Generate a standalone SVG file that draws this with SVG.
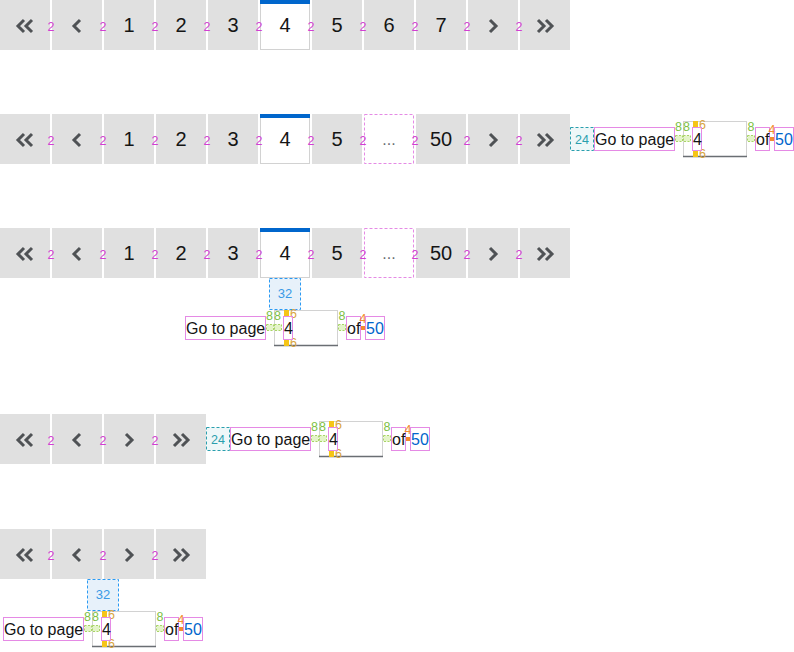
<svg xmlns="http://www.w3.org/2000/svg" width="794" height="652" viewBox="0 0 794 652">
<style>
  text { font-family: "Liberation Sans", "Noto Sans", sans-serif; }
  .btn { fill: #e0e0e0; }
  .act { fill: #ffffff; stroke: #d2d2d2; stroke-width: 1; }
  .bar { fill: #0066cc; }
  .num { font-size: 20px; fill: #151515; text-anchor: middle; }
  .ico { fill: none; stroke: #4f5255; stroke-width: 3; stroke-linecap: butt; stroke-linejoin: miter; }
  .gap { font-size: 12.5px; fill: #d23fd2; text-anchor: middle; }
  .ell { fill: #ffffff; stroke: #e58ae5; stroke-width: 1; stroke-dasharray: 3 2; }
  .dots { font-size: 16px; fill: #6a6e73; text-anchor: middle; }
  .mbox { fill: none; stroke: #e58ae5; stroke-width: 1; }
  .lbl { font-size: 16px; fill: #151515; }
  .blue { font-size: 16px; fill: #0066cc; }
  .inp { fill: #ffffff; stroke: #d2d2d2; stroke-width: 1; }
  .inpb { stroke: #6a6e73; stroke-width: 1.5; }
  .grn { fill: #e4f4c8; stroke: #a8d466; stroke-width: 1; stroke-dasharray: 2 1.5; }
  .gtx { font-size: 12.5px; fill: #7dbf45; text-anchor: middle; }
  .yel { fill: #f5c518; }
  .ytx { font-size: 12.5px; fill: #d9a540; }
  .org { fill: #f28b30; }
  .otx { font-size: 12.5px; fill: #f28b30; text-anchor: middle; }
  .teal { fill: #eef7f8; stroke: #2a9fae; stroke-width: 1; stroke-dasharray: 3 2; }
  .ttx { font-size: 12.5px; fill: #2a9fae; text-anchor: middle; }
  .sky { fill: #e7f1fa; stroke: #2b9af3; stroke-width: 1; stroke-dasharray: 3 2; }
  .stx { font-size: 13px; fill: #3a9ae6; text-anchor: middle; }
</style>
<defs>
  <g id="i-first"><path class="ico" d="M-1,-6 L-7,0 L-1,6 M7,-6 L1,0 L7,6"/></g>
  <g id="i-prev"><path class="ico" d="M3,-6 L-3,0 L3,6"/></g>
  <g id="i-next"><path class="ico" d="M-3,-6 L3,0 L-3,6"/></g>
  <g id="i-last"><path class="ico" d="M-7,-6 L-1,0 L-7,6 M1,-6 L7,0 L1,6"/></g>
  <g id="goto">
    <rect class="mbox" x="0.5" y="0.5" width="80" height="23"/>
    <text class="lbl" x="1" y="18">Go to page</text>
    <rect class="inp" x="89.5" y="-5.5" width="63" height="35"/>
    <line class="inpb" x1="89" y1="29.5" x2="153" y2="29.5"/>
    <rect class="grn" x="81.5" y="8.5" width="7" height="6"/>
    <rect class="grn" x="89.5" y="8.5" width="7" height="6"/>
    <text class="gtx" x="84.5" y="4">8</text>
    <text class="gtx" x="92.5" y="4">8</text>
    <rect class="yel" x="99" y="-6" width="5" height="6"/>
    <rect class="yel" x="99" y="24" width="5" height="6"/>
    <text class="ytx" x="105" y="2">6</text>
    <text class="ytx" x="105" y="31">6</text>
    <rect class="mbox" x="98.5" y="0.5" width="9" height="23"/>
    <text class="lbl" x="99" y="18">4</text>
    <rect class="grn" x="153.5" y="8.5" width="7" height="6"/>
    <text class="gtx" x="157" y="4">8</text>
    <rect class="mbox" x="161.5" y="0.5" width="14" height="23"/>
    <text class="lbl" x="162" y="18">of</text>
    <rect class="org" x="176" y="10" width="4" height="4"/>
    <text class="otx" x="178" y="7">4</text>
    <rect class="mbox" x="180.5" y="0.5" width="19" height="23"/>
    <text class="blue" x="181" y="18">50</text>
  </g>
</defs>

<!-- Row 1 -->
<g id="row1">
  <g id="r1-first"><rect class="btn" x="0" y="0" width="50" height="50"/><use href="#i-first" x="25" y="26"/></g>
  <g id="r1-prev"><rect class="btn" x="52" y="0" width="50" height="50"/><use href="#i-prev" x="77" y="26"/></g>
  <g id="r1-p1"><rect class="btn" x="104" y="0" width="50" height="50"/><text class="num" x="129" y="32">1</text></g>
  <g id="r1-p2"><rect class="btn" x="156" y="0" width="50" height="50"/><text class="num" x="181" y="32">2</text></g>
  <g id="r1-p3"><rect class="btn" x="208" y="0" width="50" height="50"/><text class="num" x="233" y="32">3</text></g>
  <g id="r1-p4"><rect class="act" x="260.5" y="0.5" width="49" height="49"/><rect class="bar" x="260" y="0" width="50" height="4"/><text class="num" x="285" y="32">4</text></g>
  <g id="r1-p5"><rect class="btn" x="312" y="0" width="50" height="50"/><text class="num" x="337" y="32">5</text></g>
  <g id="r1-p6"><rect class="btn" x="364" y="0" width="50" height="50"/><text class="num" x="389" y="32">6</text></g>
  <g id="r1-p7"><rect class="btn" x="416" y="0" width="50" height="50"/><text class="num" x="441" y="32">7</text></g>
  <g id="r1-next"><rect class="btn" x="468" y="0" width="50" height="50"/><use href="#i-next" x="493" y="26"/></g>
  <g id="r1-last"><rect class="btn" x="520" y="0" width="50" height="50"/><use href="#i-last" x="545" y="26"/></g>
  <g id="r1-gaps">
    <text class="gap" x="51" y="31">2</text><text class="gap" x="103" y="31">2</text><text class="gap" x="155" y="31">2</text>
    <text class="gap" x="207" y="31">2</text><text class="gap" x="259" y="31">2</text><text class="gap" x="311" y="31">2</text>
    <text class="gap" x="363" y="31">2</text><text class="gap" x="415" y="31">2</text><text class="gap" x="467" y="31">2</text>
    <text class="gap" x="519" y="31">2</text>
  </g>
</g>

<!-- Row 2 -->
<g id="row2">
  <g id="r2-first"><rect class="btn" x="0" y="114" width="50" height="50"/><use href="#i-first" x="25" y="140"/></g>
  <g id="r2-prev"><rect class="btn" x="52" y="114" width="50" height="50"/><use href="#i-prev" x="77" y="140"/></g>
  <g id="r2-p1"><rect class="btn" x="104" y="114" width="50" height="50"/><text class="num" x="129" y="146">1</text></g>
  <g id="r2-p2"><rect class="btn" x="156" y="114" width="50" height="50"/><text class="num" x="181" y="146">2</text></g>
  <g id="r2-p3"><rect class="btn" x="208" y="114" width="50" height="50"/><text class="num" x="233" y="146">3</text></g>
  <g id="r2-p4"><rect class="act" x="260.5" y="114.5" width="49" height="49"/><rect class="bar" x="260" y="114" width="50" height="4"/><text class="num" x="285" y="146">4</text></g>
  <g id="r2-p5"><rect class="btn" x="312" y="114" width="50" height="50"/><text class="num" x="337" y="146">5</text></g>
  <g id="r2-ell"><rect class="ell" x="364.5" y="114.5" width="49" height="49"/><text class="dots" x="389" y="145">...</text></g>
  <g id="r2-p50"><rect class="btn" x="416" y="114" width="50" height="50"/><text class="num" x="441" y="146">50</text></g>
  <g id="r2-next"><rect class="btn" x="468" y="114" width="50" height="50"/><use href="#i-next" x="493" y="140"/></g>
  <g id="r2-last"><rect class="btn" x="520" y="114" width="50" height="50"/><use href="#i-last" x="545" y="140"/></g>
  <g id="r2-gaps">
    <text class="gap" x="51" y="145">2</text><text class="gap" x="103" y="145">2</text><text class="gap" x="155" y="145">2</text>
    <text class="gap" x="207" y="145">2</text><text class="gap" x="259" y="145">2</text><text class="gap" x="311" y="145">2</text>
    <text class="gap" x="363" y="145">2</text><text class="gap" x="415" y="145">2</text><text class="gap" x="467" y="145">2</text>
    <text class="gap" x="519" y="145">2</text>
  </g>
  <g id="r2-space"><rect class="teal" x="570.5" y="127.5" width="23" height="23"/><text class="ttx" x="582" y="144">24</text></g>
  <g id="r2-goto"><use href="#goto" x="594" y="127"/></g>
</g>

<!-- Row 3 -->
<g id="row3">
  <g id="r3-first"><rect class="btn" x="0" y="228" width="50" height="50"/><use href="#i-first" x="25" y="254"/></g>
  <g id="r3-prev"><rect class="btn" x="52" y="228" width="50" height="50"/><use href="#i-prev" x="77" y="254"/></g>
  <g id="r3-p1"><rect class="btn" x="104" y="228" width="50" height="50"/><text class="num" x="129" y="260">1</text></g>
  <g id="r3-p2"><rect class="btn" x="156" y="228" width="50" height="50"/><text class="num" x="181" y="260">2</text></g>
  <g id="r3-p3"><rect class="btn" x="208" y="228" width="50" height="50"/><text class="num" x="233" y="260">3</text></g>
  <g id="r3-p4"><rect class="act" x="260.5" y="228.5" width="49" height="49"/><rect class="bar" x="260" y="228" width="50" height="4"/><text class="num" x="285" y="260">4</text></g>
  <g id="r3-p5"><rect class="btn" x="312" y="228" width="50" height="50"/><text class="num" x="337" y="260">5</text></g>
  <g id="r3-ell"><rect class="ell" x="364.5" y="228.5" width="49" height="49"/><text class="dots" x="389" y="259">...</text></g>
  <g id="r3-p50"><rect class="btn" x="416" y="228" width="50" height="50"/><text class="num" x="441" y="260">50</text></g>
  <g id="r3-next"><rect class="btn" x="468" y="228" width="50" height="50"/><use href="#i-next" x="493" y="254"/></g>
  <g id="r3-last"><rect class="btn" x="520" y="228" width="50" height="50"/><use href="#i-last" x="545" y="254"/></g>
  <g id="r3-gaps">
    <text class="gap" x="51" y="259">2</text><text class="gap" x="103" y="259">2</text><text class="gap" x="155" y="259">2</text>
    <text class="gap" x="207" y="259">2</text><text class="gap" x="259" y="259">2</text><text class="gap" x="311" y="259">2</text>
    <text class="gap" x="363" y="259">2</text><text class="gap" x="415" y="259">2</text><text class="gap" x="467" y="259">2</text>
    <text class="gap" x="519" y="259">2</text>
  </g>
  <g id="r3-space"><rect class="sky" x="269.5" y="278.5" width="31" height="31"/><text class="stx" x="285" y="298">32</text></g>
  <g id="r3-goto"><use href="#goto" x="185" y="316"/></g>
</g>

<!-- Row 4 -->
<g id="row4">
  <g id="r4-first"><rect class="btn" x="0" y="414" width="50" height="50"/><use href="#i-first" x="25" y="440"/></g>
  <g id="r4-prev"><rect class="btn" x="52" y="414" width="50" height="50"/><use href="#i-prev" x="77" y="440"/></g>
  <g id="r4-next"><rect class="btn" x="104" y="414" width="50" height="50"/><use href="#i-next" x="129" y="440"/></g>
  <g id="r4-last"><rect class="btn" x="156" y="414" width="50" height="50"/><use href="#i-last" x="181" y="440"/></g>
  <g id="r4-gaps">
    <text class="gap" x="51" y="445">2</text><text class="gap" x="103" y="445">2</text><text class="gap" x="155" y="445">2</text>
  </g>
  <g id="r4-space"><rect class="teal" x="206.5" y="427.5" width="23" height="23"/><text class="ttx" x="218" y="444">24</text></g>
  <g id="r4-goto"><use href="#goto" x="230" y="427"/></g>
</g>

<!-- Row 5 -->
<g id="row5">
  <g id="r5-first"><rect class="btn" x="0" y="529" width="50" height="50"/><use href="#i-first" x="25" y="555"/></g>
  <g id="r5-prev"><rect class="btn" x="52" y="529" width="50" height="50"/><use href="#i-prev" x="77" y="555"/></g>
  <g id="r5-next"><rect class="btn" x="104" y="529" width="50" height="50"/><use href="#i-next" x="129" y="555"/></g>
  <g id="r5-last"><rect class="btn" x="156" y="529" width="50" height="50"/><use href="#i-last" x="181" y="555"/></g>
  <g id="r5-gaps">
    <text class="gap" x="51" y="560">2</text><text class="gap" x="103" y="560">2</text><text class="gap" x="155" y="560">2</text>
  </g>
  <g id="r5-space"><rect class="sky" x="87.5" y="579.5" width="31" height="31"/><text class="stx" x="103" y="599">32</text></g>
  <g id="r5-goto"><use href="#goto" x="3" y="617"/></g>
</g>

<g id="connectors"></g>
</svg>
